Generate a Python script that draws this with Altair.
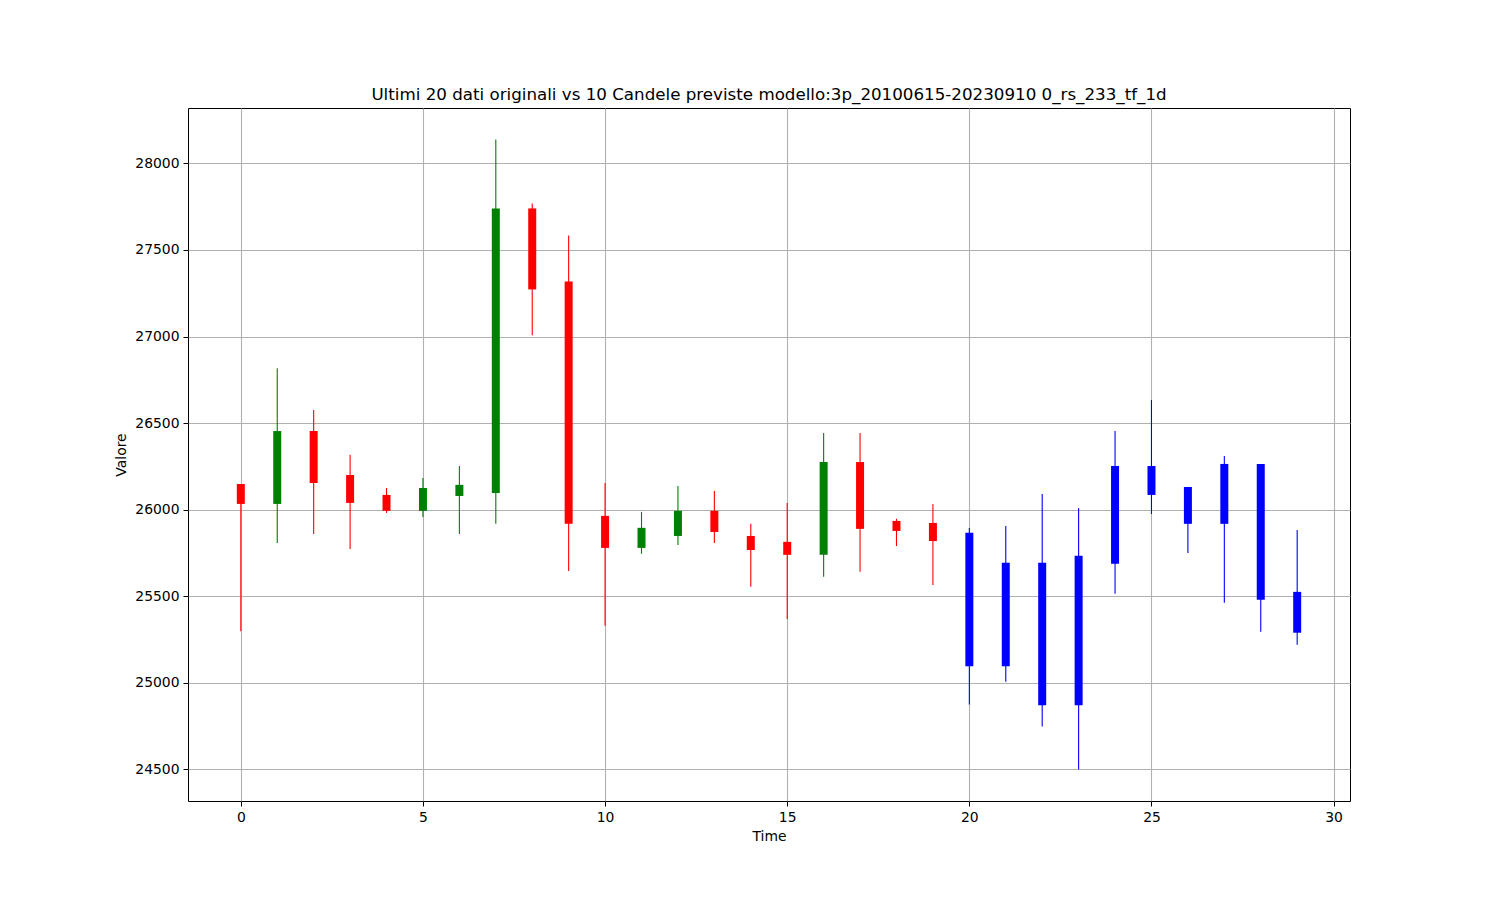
import altair as alt
import pandas as pd

time = list(range(30))
open_ = [26148, 26033, 26454, 26200, 26085, 25993, 26079, 26096, 27740, 27318,
         25964, 25779, 25848, 25993, 25848, 25814, 25739, 26275, 25935, 25923,
         25866, 25693, 25693, 25733, 26252, 26252, 26131, 26264, 26264, 25525]
close = [26033, 26454, 26154, 26039, 25993, 26125, 26143, 27740, 27272, 25918,
         25779, 25895, 25993, 25871, 25767, 25739, 26275, 25889, 25877, 25819,
         25095, 25095, 24870, 24870, 25687, 26085, 25918, 25918, 25479, 25289]
high = [26148, 26817, 26575, 26317, 26125, 26183, 26252, 28138, 27768, 27584,
        26154, 25987, 26137, 26108, 25918, 26039, 26442, 26442, 25947, 26033,
        25894, 25906, 26091, 26010, 26454, 26633, 26131, 26310, 26264, 25883]
low = [25297, 25808, 25860, 25773, 25981, 25958, 25860, 25918, 27008, 25646,
       25329, 25745, 25796, 25808, 25554, 25369, 25612, 25641, 25790, 25565,
       24875, 25006, 24747, 24499, 25514, 25975, 25750, 25462, 25295, 25220]
source = ["orig"] * 20 + ["pred"] * 10

x_ticks = [0, 5, 10, 15, 20, 25, 30]
y_ticks = [24500, 25000, 25500, 26000, 26500, 27000, 27500, 28000]

cat = []
for o, c, s in zip(open_, close, source):
    if s == "pred":
        cat.append("pred")
    elif c >= o:
        cat.append("up")
    else:
        cat.append("down")

df = pd.DataFrame({"t": time, "open": open_, "close": close,
                   "high": high, "low": low, "cat": cat})

FONT = "DejaVu Sans"
xscale = alt.Scale(domain=[-1.45, 30.45], nice=False, zero=False, padding=0)
yscale = alt.Scale(domain=[24317, 28320], nice=False, zero=False, padding=0)
color = alt.Color("cat:N", scale=alt.Scale(domain=["up", "down", "pred"],
                                           range=["#008000", "#ff0000", "#0000ff"]),
                  legend=None)

xaxis = alt.Axis(values=x_ticks, title="Time", grid=True, format="d")
yaxis = alt.Axis(values=y_ticks, title="Valore", grid=True, format="d")

base = alt.Chart(df)
wicks = base.mark_rule(strokeWidth=1.1).encode(
    x=alt.X("t:Q", scale=xscale, axis=xaxis),
    y=alt.Y("low:Q", scale=yscale, axis=yaxis),
    y2="high:Q",
    color=color,
)
bodies = base.mark_bar(size=8).encode(
    x=alt.X("t:Q", scale=xscale),
    y=alt.Y("open:Q", scale=yscale),
    y2="close:Q",
    color=color,
)

chart = alt.layer(wicks, bodies).properties(
    width=1162, height=693,
    title=alt.TitleParams(
        "Ultimi 20 dati originali vs 10 Candele previste modello:3p_20100615-20230910 0_rs_233_tf_1d",
        font=FONT, fontSize=16.7, fontWeight="normal", color="black",
        anchor="middle", offset=4),
    autosize=alt.AutoSizeParams(type="none"),
    padding={"left": 180, "top": 100, "right": 142, "bottom": 91},
).configure_view(
    stroke="black", strokeWidth=1
).configure_axis(
    domain=False,
    gridColor="#b0b0b0", gridWidth=1.1, gridOpacity=1,
    tickColor="black", tickSize=5, tickWidth=1,
    labelFont=FONT, labelFontSize=13.9, labelColor="black", labelPadding=4,
    titleFont=FONT, titleFontSize=13.9, titleColor="black",
    titleFontWeight="normal", titlePadding=6,
)

chart.save("out.html", embed_options={"renderer": "svg", "actions": False})
